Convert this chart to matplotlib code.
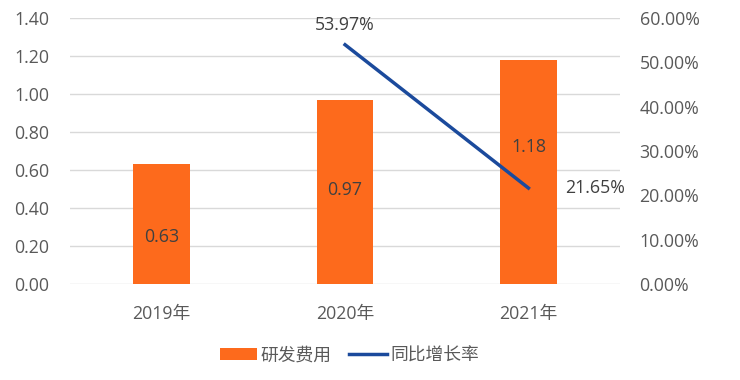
import matplotlib
matplotlib.use("Agg")
import matplotlib.pyplot as plt
from matplotlib.lines import Line2D
from matplotlib.patches import Patch

plt.rcParams['font.family'] = ['Open Sans', 'Noto Sans CJK SC', 'DejaVu Sans']

categories = ['2019年', '2020年', '2021年']
rd_cost = [0.63, 0.97, 1.18]
growth_cats = ['2020年', '2021年']
growth = [0.5397, 0.2165]
bar_label_texts = ['0.63', '0.97', '1.18']
growth_label_texts = ['53.97%', '21.65%']
left_ticks = [0.0, 0.2, 0.4, 0.6, 0.8, 1.0, 1.2, 1.4]
right_ticks = [0.0, 0.1, 0.2, 0.3, 0.4, 0.5, 0.6]

bar_color = '#FD6A1C'
line_color = '#1B4A9C'
text_color = '#595959'
grid_color = '#D9D9D9'
fs = 12.8

fig = plt.figure(figsize=(7.4, 3.8), dpi=100)
ax = fig.add_axes([0.0946, 0.2526, 0.838 - 0.0946, 0.9526 - 0.2526])
x = list(range(len(categories)))
ax.bar(x, rd_cost, width=0.31, color=bar_color, zorder=2)
ax.set_xlim(-0.5, len(categories) - 0.5)
ax.set_ylim(0, 1.4)
ax.set_yticks(left_ticks)
ax.set_yticklabels([f'{v:.2f}' for v in left_ticks])
ax.set_xticks(x)
ax.set_xticklabels(categories)
for s in ax.spines.values():
    s.set_visible(False)
ax.grid(axis='y', color=grid_color, linewidth=1.0, zorder=0)
ax.set_axisbelow(True)
ax.tick_params(axis='both', length=0, labelsize=fs, colors=text_color)
ax.tick_params(axis='y', pad=15)
ax.tick_params(axis='x', pad=15)

# bar labels (positions as fraction of bar height)
label_frac = [0.39, 0.51, 0.61]
for xi, v, t, f in zip(x, rd_cost, bar_label_texts, label_frac):
    ax.text(xi, v * f, t, ha='center', va='center', fontsize=fs, color='#404040', zorder=5)

ax2 = ax.twinx()
gx = [categories.index(c) for c in growth_cats]
ax2.plot(gx, growth, color=line_color, linewidth=2.5, zorder=3)
ax2.set_ylim(0, 0.6)
ax2.set_yticks(right_ticks)
ax2.set_yticklabels([f'{v*100:.2f}%' for v in right_ticks])
for s in ax2.spines.values():
    s.set_visible(False)
ax2.tick_params(axis='both', length=0, labelsize=fs, colors=text_color)
ax2.tick_params(axis='y', pad=14)

ax2.annotate(growth_label_texts[0], (gx[0], growth[0]), xytext=(0, 14), textcoords='offset points',
             ha='center', va='center', fontsize=fs, color='#404040')
ax2.annotate(growth_label_texts[1], (gx[1], growth[1]), xytext=(48, 0), textcoords='offset points',
             ha='center', va='center', fontsize=fs, color='#404040')

handles = [Patch(facecolor=bar_color, edgecolor='none'),
           Line2D([0], [0], color=line_color, linewidth=2.5)]
fig.legend(handles, ['研发费用', '同比增长率'], loc='center', bbox_to_anchor=(0.472, 0.065),
           ncol=2, frameon=False, fontsize=fs, labelcolor=text_color,
           handlelength=2.1, handleheight=0.6, columnspacing=1.0, handletextpad=0.2)

fig.savefig('out.png', dpi=100, facecolor='white')
